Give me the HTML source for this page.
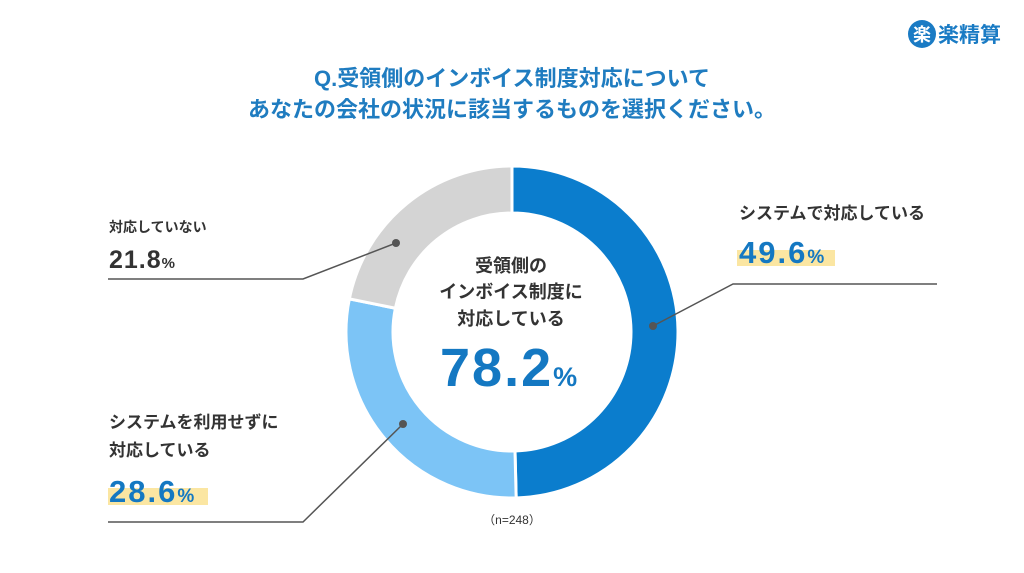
<!DOCTYPE html>
<html><head><meta charset="utf-8"><style>
html,body{margin:0;padding:0;background:#fff;}
body{width:1024px;height:573px;position:relative;overflow:hidden;font-family:"Liberation Sans","Noto Sans CJK JP",sans-serif;}
svg{position:absolute;left:0;top:0;}
</style></head><body>
<svg width="1024" height="573">
<g>
<circle cx="922" cy="34" r="14" fill="#1a7bc4"/>
<text x="922" y="41" text-anchor="middle" font-size="18" fill="#fff" font-weight="bold" font-family="Noto Sans CJK JP, sans-serif">楽</text>
<text x="938" y="42" font-size="21" fill="#1a7bc4" font-weight="bold" font-family="Noto Sans CJK JP, sans-serif">楽精算</text>
</g>
<text x="512" y="86" text-anchor="middle" font-size="22" font-weight="bold" fill="#1f7cc0" font-family="Liberation Sans, Noto Sans CJK JP, sans-serif">Q.受領側のインボイス制度対応について</text>
<text x="512" y="117" text-anchor="middle" font-size="22" font-weight="bold" fill="#1f7cc0" font-family="Liberation Sans, Noto Sans CJK JP, sans-serif">あなたの会社の状況に該当するものを選択ください。</text>
<g id="slices"></g>
<g font-family="Liberation Sans, Noto Sans CJK JP, sans-serif" fill="#333" font-weight="bold" text-anchor="middle">
<text x="511" y="272" font-size="18">受領側の</text>
<text x="511" y="298" font-size="18">インボイス制度に</text>
<text x="511" y="325" font-size="18">対応している</text>
<text x="440" y="386" font-size="54" fill="#1478c2" text-anchor="start" letter-spacing="2">78.2<tspan font-size="27" letter-spacing="0">%</tspan></text>
</g>
<g fill="none" stroke="#555" stroke-width="1.5">
<polyline points="653,326 733,284 937,284"/>
<polyline points="396,243 303,279 108,279"/>
<polyline points="403,424 303,522 108,522"/>
</g>
<g fill="#555"><circle cx="653" cy="326" r="4"/><circle cx="396" cy="243" r="4"/><circle cx="403" cy="424" r="4"/></g>
<g font-family="Liberation Sans, Noto Sans CJK JP, sans-serif" font-weight="bold">
<rect x="737" y="250" width="98" height="16" fill="#fbe6a2"/>
<text x="739" y="219" font-size="17" fill="#333">システムで対応している</text>
<text x="739" y="263" font-size="31" fill="#1478c2" letter-spacing="2">49.6<tspan font-size="19" letter-spacing="0">%</tspan></text>
<text x="109" y="232" font-size="14" fill="#333">対応していない</text>
<text x="109" y="268" font-size="25" fill="#333" letter-spacing="1">21.8<tspan font-size="15" letter-spacing="0">%</tspan></text>
<rect x="108" y="488" width="100" height="17" fill="#fbe6a2"/>
<text x="109" y="428" font-size="17" fill="#333">システムを利用せずに</text>
<text x="109" y="456" font-size="17" fill="#333">対応している</text>
<text x="109" y="502" font-size="31" fill="#1478c2" letter-spacing="2">28.6<tspan font-size="19" letter-spacing="0">%</tspan></text>
<text x="512" y="524" text-anchor="middle" font-size="12" font-weight="normal" fill="#333">（n=248）</text>
</g>
</svg>
<script>
const categories = ["システムで対応している","システムを利用せずに対応している","対応していない"];
const values = [49.6, 28.6, 21.8];
const colors = ["#0b7dcd","#7cc4f6","#d4d4d4"];
const cx=512, cy=332, R=166, r=119;
const total = values.reduce((a,b)=>a+b,0);
function pt(rad, ang){ return [cx+rad*Math.sin(ang), cy-rad*Math.cos(ang)]; }
const g=document.getElementById('slices');
let a0=0;
values.forEach((v,i)=>{
  const a1=a0+v/total*2*Math.PI;
  const large=(a1-a0)>Math.PI?1:0;
  const p1=pt(R,a0),p2=pt(R,a1),p3=pt(r,a1),p4=pt(r,a0);
  const p=document.createElementNS('http://www.w3.org/2000/svg','path');
  p.setAttribute('d',`M${p1}A${R},${R} 0 ${large} 1 ${p2}L${p3}A${r},${r} 0 ${large} 0 ${p4}Z`);
  p.setAttribute('fill',colors[i]);
  p.setAttribute('stroke','#fff');
  p.setAttribute('stroke-width','3');
  
  
  g.appendChild(p);
  a0=a1;
});
</script>
</body></html>
